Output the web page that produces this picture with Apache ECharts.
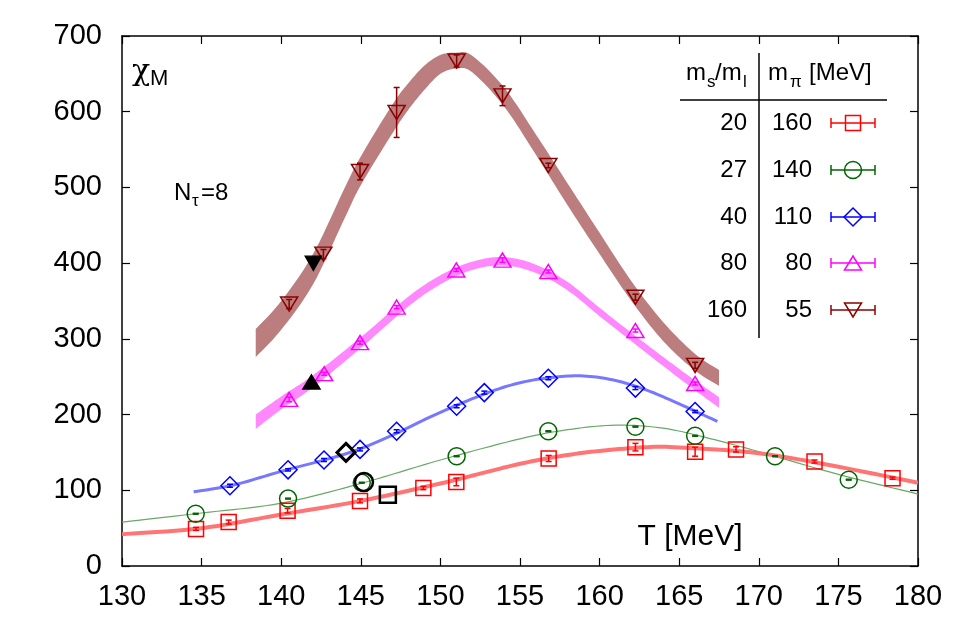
<!DOCTYPE html>
<html><head><meta charset="utf-8">
<script src="https://cdn.jsdelivr.net/npm/echarts@6/dist/echarts.min.js"></script>
<style>html,body{margin:0;padding:0;background:#fff}#c{width:975px;height:630px}</style>
</head><body><div id="c"></div>
<script>
const FONT = "'Liberation Sans', Arial, Helvetica, sans-serif";

// axis ticks
const xTicks = [130,135,140,145,150,155,160,165,170,175,180];
const yTicks = [0,100,200,300,400,500,600,700];

// data points: ms/ml = 20 (m_pi 160)
const T20   = [134.65,136.7,140.4,144.95,148.93,151.0,156.8,162.25,166.0,168.57,173.5,178.4];
const chi20 = [49,58,73,86,103,111,142,157,151,154,138,116];
const err20 = [2,2.6,3,2.6,2.2,5,4,5,6,3.5,2,1.5];
// ms/ml = 27 (m_pi 140)
const T27   = [134.63,140.43,145.06,151.02,156.78,162.25,166.0,171.02,175.65];
const chi27 = [69,89,110,145,178,184,172,145,114];
const err27 = [0.6,0.6,0.6,0.6,0.6,0.6,0.6,0.6,0.6];
// ms/ml = 40 (m_pi 110)
const T40   = [136.78,140.43,142.69,144.95,147.25,151.02,152.76,156.78,162.25,166.0];
const chi40 = [106,127,140,154,178,211,229,248,235,204];
const err40 = [2,1.5,2,2,2,2,2,2,2,1.5];
// ms/ml = 80 (m_pi 80)
const T80   = [140.5,142.7,144.95,147.25,151.0,153.9,156.78,162.25,166.0];
const chi80 = [220,254,295,342,391,404,389,311,241];
const err80 = [3,2,2,2,2,3,2,2,2];
// ms/ml = 160 (m_pi 55)
const T160   = [140.5,142.65,144.95,147.25,151.02,153.9,156.78,162.25,166.0];
const chi160 = [346,412,521,599,667,621,529,355,265];
const err160 = [6,6,11,33,8,13,3,4,4];

// black points
const blkSq   = [[146.7, 94]];
const blkCirc = [[145.2, 111]];
const blkDia  = [[144.07, 150]];
const blkUp   = [[141.9, 243]];
const blkDown = [[142.02, 400]];

// fit curves
const fitT20   = [130,135,140,145,150,152.5,155,157.5,160,163,165,170,175,180];
const fit20    = [42,50,68,86,109,122,135,145,152,157,156.5,149,131,110];
const fitT27   = [130,135,140,145,150,155,158,161,164,167,170,175,180];
const fit27    = [58,70,83,109,140,168,180,186,182,168,151,121,95];
const fitT40   = [134.5,137,140,145,150,153,155,157,159,161,163,165,167.4];
const fit40    = [98,107,125,155,203,229,242,249,251,245,232,214,191];
const bandT80  = [138.4,140,142,145,148,150,152,154,156,158,160,162,164,166,167.5];
const lo80     = [181,207,236,288,343,372,391,397,387,364,330,297,264,232,209];
const hi80     = [200,224,252,302,356,384,402,408,398,375,341,308,276,245,223];
const bandT160 = [138.4,140,142,144,145,147,148,149,150,151,152,154,156,158,160,162,164,166,167.5];
const lo160    = [276,312,372,460,503,572,603,629,650,657,652,607,543,476,412,350,297,258,238];
const hi160    = [313,350,412,500,541,610,638,661,675,678,674,632,570,505,440,376,322,280,259];

const C20 = '#ff0000', C27 = '#006400', C40 = '#0000ff', C80 = '#ff00ff', C160 = '#8b0000';

function pairs(xs, ys) { return xs.map((x, i) => [x, ys[i]]); }

// Catmull-Rom sampling in pixel space (only for drawing a smooth path through mapped points)
function spline(pts, steps) {
  const out = [];
  const n = pts.length;
  for (let i = 0; i < n - 1; i++) {
    const p0 = pts[Math.max(i - 1, 0)], p1 = pts[i], p2 = pts[i + 1], p3 = pts[Math.min(i + 2, n - 1)];
    for (let s = 0; s < steps; s++) {
      const t = s / steps, t2 = t * t, t3 = t2 * t;
      const f = (a, b, c, d) => 0.5 * ((2 * b) + (-a + c) * t + (2 * a - 5 * b + 4 * c - d) * t2 + (-a + 3 * b - 3 * c + d) * t3);
      out.push([f(p0[0], p1[0], p2[0], p3[0]), f(p0[1], p1[1], p2[1], p3[1])]);
    }
  }
  out.push(pts[n - 1]);
  return out;
}

function bandSeries(xs, lo, hi, color) {
  return {
    type: 'custom', silent: true, z: 1, clip: true,
    renderItem: function (params, api) {
      const up = spline(xs.map((x, i) => api.coord([x, hi[i]])), 10);
      const dn = spline(xs.map((x, i) => api.coord([x, lo[i]])), 10).reverse();
      return { type: 'polygon', shape: { points: up.concat(dn) }, style: { fill: color } };
    },
    data: [[xs[0], lo[0]]]
  };
}

function fitLine(xs, ys, color, width) {
  return {
    type: 'custom', silent: true, z: 2, clip: true,
    renderItem: function (params, api) {
      const p = spline(xs.map((x, i) => api.coord([x, ys[i]])), 10);
      return { type: 'polyline', shape: { points: p }, style: { stroke: color, lineWidth: width, fill: null, lineJoin: 'round' } };
    },
    data: [[xs[0], ys[0]]]
  };
}

function errSeries(T, chi, err, color) {
  return {
    type: 'custom', silent: true, z: 4,
    renderItem: function (params, api) {
      const x = api.value(0), y = api.value(1), e = api.value(2);
      const t = api.coord([x, y + e]), b = api.coord([x, y - e]);
      const w = 3;
      const st = { stroke: color, lineWidth: 1.5 };
      return { type: 'group', children: [
        { type: 'line', shape: { x1: t[0], y1: t[1], x2: b[0], y2: b[1] }, style: st },
        { type: 'line', shape: { x1: t[0] - w, y1: t[1], x2: t[0] + w, y2: t[1] }, style: st },
        { type: 'line', shape: { x1: b[0] - w, y1: b[1], x2: b[0] + w, y2: b[1] }, style: st }
      ]};
    },
    data: T.map((t, i) => [t, chi[i], err[i]])
  };
}

function scatter(data, symbol, size, color, opts) {
  opts = opts || {};
  return {
    type: 'scatter', z: opts.z || 5, silent: true,
    symbol: symbol, symbolSize: size, symbolRotate: opts.rotate || 0,
    itemStyle: { color: opts.fill || 'rgba(0,0,0,0)', borderColor: color, borderWidth: opts.lw || 1.5, opacity: 1 },
    data: data
  };
}

// legend (table) graphics
const legendRows = [
  { r: '20',  m: '160', c: C20,  s: 'square' },
  { r: '27',  m: '140', c: C27,  s: 'circle' },
  { r: '40',  m: '110', c: C40,  s: 'diamond' },
  { r: '80',  m: '80',  c: C80,  s: 'up' },
  { r: '160', m: '55',  c: C160, s: 'down' }
];
const rowY = [123, 170, 217, 263, 310];

function shapeEl(s, cx, cy, color) {
  const st = { fill: 'rgba(0,0,0,0)', stroke: color, lineWidth: 1.5 };
  if (s === 'square') return { type: 'rect', shape: { x: cx - 7.5, y: cy - 7.5, width: 15, height: 15 }, style: st };
  if (s === 'circle') return { type: 'circle', shape: { cx: cx, cy: cy, r: 8.5 }, style: st };
  if (s === 'diamond') return { type: 'polygon', shape: { points: [[cx, cy - 9], [cx + 9, cy], [cx, cy + 9], [cx - 9, cy]] }, style: st };
  if (s === 'up') return { type: 'polygon', shape: { points: [[cx, cy - 7], [cx + 8.5, cy + 7], [cx - 8.5, cy + 7]] }, style: st };
  return { type: 'polygon', shape: { points: [[cx - 8.5, cy - 7], [cx + 8.5, cy - 7], [cx, cy + 7]] }, style: st };
}

function txt(text, x, y, size, align, family) {
  return { type: 'text', x: x, y: y, z: 100, silent: true,
    style: { text: text, font: size + 'px ' + (family || FONT), fill: '#000', textAlign: align || 'left', textVerticalAlign: 'middle' } };
}

const graphics = [];
// header
graphics.push(txt('m', 686, 73, 24));
graphics.push(txt('s', 707, 82, 17));
graphics.push(txt('/m', 715, 73, 24));
graphics.push(txt('l', 743, 82, 17));
graphics.push(txt('m', 768, 73, 24));
graphics.push(txt('π', 790, 82, 17));
graphics.push(txt('[MeV]', 809, 73, 24));
graphics.push({ type: 'line', z: 100, silent: true, shape: { x1: 680, y1: 100, x2: 887, y2: 100 }, style: { stroke: '#000', lineWidth: 1.5 } });
graphics.push({ type: 'line', z: 100, silent: true, shape: { x1: 759, y1: 53, x2: 759, y2: 338 }, style: { stroke: '#000', lineWidth: 1.5 } });
legendRows.forEach(function (row, i) {
  const y = rowY[i];
  graphics.push(txt(row.r, 747, y, 24, 'right'));
  graphics.push(txt(row.m, 812, y, 24, 'right'));
  const st = { stroke: row.c, lineWidth: 1.5 };
  graphics.push({ type: 'line', z: 100, silent: true, shape: { x1: 831, y1: y, x2: 875, y2: y }, style: st });
  graphics.push({ type: 'line', z: 100, silent: true, shape: { x1: 831, y1: y - 5, x2: 831, y2: y + 5 }, style: st });
  graphics.push({ type: 'line', z: 100, silent: true, shape: { x1: 875, y1: y - 5, x2: 875, y2: y + 5 }, style: st });
  const el = shapeEl(row.s, 853, y, row.c); el.z = 101; el.silent = true;
  graphics.push(el);
});
// labels in plot
graphics.push(txt('χ', 132, 72, 30, 'left', "'DejaVu Serif', serif"));
graphics.push(txt('M', 150, 79, 22));
graphics.push(txt('N', 174, 193, 24));
graphics.push(txt('τ', 192, 201, 17));
graphics.push(txt('=8', 201, 193, 24));
graphics.push(txt('T [MeV]', 690, 537, 30, 'center'));

const axisCommon = {
  type: 'value', splitLine: { show: false },
  axisLine: { show: true, onZero: false, lineStyle: { color: '#000', width: 1.5 } },
  axisTick: { show: true, inside: true, length: 8, lineStyle: { color: '#000', width: 1.2 } }
};

const option = {
  backgroundColor: '#fff',
  animation: false,
  grid: { left: 122, right: 57, top: 36, bottom: 64, containLabel: false },
  xAxis: [
    Object.assign({}, axisCommon, { min: xTicks[0], max: xTicks[xTicks.length - 1], interval: xTicks[1] - xTicks[0], position: 'bottom',
      axisLabel: { fontSize: 29, fontFamily: FONT, color: '#000', margin: 16 } }),
    Object.assign({}, axisCommon, { min: xTicks[0], max: xTicks[xTicks.length - 1], interval: xTicks[1] - xTicks[0], position: 'top',
      axisLabel: { show: false } })
  ],
  yAxis: [
    Object.assign({}, axisCommon, { min: yTicks[0], max: yTicks[yTicks.length - 1], interval: yTicks[1] - yTicks[0], position: 'left',
      axisLabel: { fontSize: 29, fontFamily: FONT, color: '#000', margin: 20 } }),
    Object.assign({}, axisCommon, { min: yTicks[0], max: yTicks[yTicks.length - 1], interval: yTicks[1] - yTicks[0], position: 'right',
      axisLabel: { show: false } })
  ],
  graphic: graphics,
  series: [
    bandSeries(bandT160, lo160, hi160, '#bb7d7d'),
    bandSeries(bandT80, lo80, hi80, '#ff88ff'),
    fitLine(fitT40, fit40, '#7878ff', 3),
    fitLine(fitT27, fit27, '#6aa86a', 1.2),
    fitLine(fitT20, fit20, '#ff7575', 4),
    errSeries(T20, chi20, err20, C20),
    errSeries(T27, chi27, err27, C27),
    errSeries(T40, chi40, err40, C40),
    errSeries(T80, chi80, err80, C80),
    errSeries(T160, chi160, err160, C160),
    scatter(pairs(T20, chi20), 'rect', 15, C20),
    scatter(pairs(T27, chi27), 'circle', 17, C27),
    scatter(pairs(T40, chi40), 'diamond', 18, C40),
    scatter(pairs(T80, chi80), 'triangle', [17, 14], C80),
    scatter(pairs(T160, chi160), 'triangle', [17, 14], C160, { rotate: 180 }),
    scatter(blkSq, 'rect', 16, '#000', { lw: 2.5, z: 6 }),
    scatter(blkCirc, 'circle', 18, '#000', { lw: 2.5, z: 6 }),
    scatter(blkDia, 'diamond', 18, '#000', { lw: 3, z: 6 }),
    scatter(blkUp, 'triangle', [17, 14], '#000', { lw: 1.5, z: 6, fill: '#000' }),
    scatter(blkDown, 'triangle', [16, 14], '#000', { lw: 1.5, z: 6, fill: '#000', rotate: 180 })
  ]
};

const chart = echarts.init(document.getElementById('c'), null, { renderer: 'canvas' });
chart.setOption(option);
</script>
</body></html>
